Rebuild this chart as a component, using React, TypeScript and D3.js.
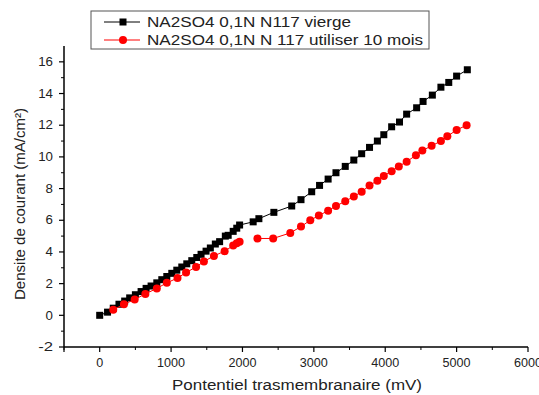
import React from "react";
import * as d3 from "d3";

const blackX = [0, 110, 190, 270, 350, 420, 500, 580, 650, 720, 800, 870, 940, 1010, 1080, 1150, 1220, 1290, 1360, 1420, 1490, 1550, 1620, 1680, 1760, 1800, 1870, 1920, 1960, 2150, 2230, 2440, 2690, 2820, 2970, 3080, 3200, 3310, 3440, 3560, 3670, 3780, 3890, 3980, 4090, 4200, 4300, 4440, 4530, 4660, 4780, 4890, 5000, 5150];
const blackY = [0, 0.2, 0.45, 0.7, 0.9, 1.1, 1.3, 1.5, 1.7, 1.85, 2.05, 2.25, 2.45, 2.65, 2.85, 3.05, 3.25, 3.45, 3.65, 3.85, 4.05, 4.25, 4.5, 4.65, 5.0, 5.05, 5.3, 5.5, 5.7, 5.9, 6.1, 6.5, 6.9, 7.3, 7.8, 8.2, 8.6, 9.0, 9.4, 9.8, 10.2, 10.6, 11.0, 11.4, 11.9, 12.2, 12.7, 13.1, 13.5, 13.9, 14.4, 14.7, 15.1, 15.5];

// null marks the break in the red curve
const redX = [190, 340, 490, 640, 800, 940, 1090, 1210, 1350, 1460, 1600, 1750, 1870, 1920, 1960, null, 2210, 2430, 2670, 2820, 2950, 3070, 3200, 3310, 3440, 3560, 3670, 3780, 3890, 3980, 4090, 4190, 4300, 4430, 4520, 4650, 4780, 4870, 5000, 5140];
const redY = [0.35, 0.7, 1.0, 1.35, 1.7, 2.05, 2.35, 2.7, 3.05, 3.4, 3.75, 4.05, 4.4, 4.55, 4.65, null, 4.85, 4.85, 5.2, 5.6, 6.0, 6.3, 6.6, 6.9, 7.2, 7.5, 7.8, 8.2, 8.5, 8.8, 9.1, 9.4, 9.7, 10.1, 10.4, 10.7, 11.0, 11.3, 11.7, 12.0];

const xTicks = [0, 1000, 2000, 3000, 4000, 5000, 6000];
const yTicks = [-2, 0, 2, 4, 6, 8, 10, 12, 14, 16];
const seriesNames = ["NA2SO4 0,1N N117 vierge", "NA2SO4 0,1N N 117 utiliser 10 mois"];
const xTitle = "Pontentiel trasmembranaire (mV)";
const yTitle = "Densite de courant (mA/cm²)";

export default function App() {
  const W = 539, H = 395;
  const x = d3.scaleLinear().domain([-500, 6000]).range([64, 528]);
  const y = d3.scaleLinear().domain([-2, 17]).range([347, 46]);
  const font = "'Liberation Sans', Arial, sans-serif";

  const black = blackX.map((v, i) => ({ x: v, y: blackY[i] }));
  const red = redX.map((v, i) => ({ x: v, y: redY[i] }));
  const line = d3
    .line<{ x: number | null; y: number | null }>()
    .defined((d) => d.x !== null && d.y !== null)
    .x((d) => x(d.x as number))
    .y((d) => y(d.y as number));

  const xMinor = d3.range(-500, 6001, 500).filter((v) => v % 1000 !== 0);
  const yMinor = d3.range(-1, 17, 2);

  return (
    <svg width={W} height={H} style={{ position: "absolute", left: 0, top: 0, background: "#fff" }}>
      <rect x={0} y={0} width={W} height={H} fill="#fff" />
      {/* axes */}
      <line x1={x(-500)} x2={x(-500)} y1={y(-2)} y2={y(17)} stroke="#000" strokeWidth={1.5} />
      <line x1={x(-500)} x2={x(6000)} y1={y(-2)} y2={y(-2)} stroke="#000" strokeWidth={1.5} />
      {yTicks.map((t) => (
        <g key={"yt" + t}>
          <line x1={x(-500) - 5} x2={x(-500)} y1={y(t)} y2={y(t)} stroke="#000" strokeWidth={1.2} />
          <text x={x(-500) - 11} y={y(t)} dy="0.35em" textAnchor="end" fontSize={12} fontFamily={font} fill="#222" textLength={String(t).length * 7.4} lengthAdjust="spacingAndGlyphs">
            {t}
          </text>
        </g>
      ))}
      {yMinor.map((t) => (
        <line key={"ym" + t} x1={x(-500) - 3} x2={x(-500)} y1={y(t)} y2={y(t)} stroke="#000" strokeWidth={1} />
      ))}
      {[-500, ...xTicks].map((t) => (
        <line key={"xt" + t} x1={x(t)} x2={x(t)} y1={y(-2)} y2={y(-2) + 5} stroke="#000" strokeWidth={1.2} />
      ))}
      {xMinor.map((t) => (
        <line key={"xm" + t} x1={x(t)} x2={x(t)} y1={y(-2)} y2={y(-2) + 3} stroke="#000" strokeWidth={1} />
      ))}
      {xTicks.map((t) => (
        <text key={"xl" + t} x={x(t)} y={y(-2) + 20} textAnchor="middle" fontSize={12} fontFamily={font} fill="#222" textLength={String(t).length * 7} lengthAdjust="spacingAndGlyphs">
          {t}
        </text>
      ))}
      <text x={297} y={390} textAnchor="middle" fontSize={14} fontFamily={font} fill="#222" textLength={250} lengthAdjust="spacingAndGlyphs">
        {xTitle}
      </text>
      <text
        transform={`translate(25,${204}) rotate(-90)`}
        textAnchor="middle"
        fontSize={14}
        fontFamily={font}
        fill="#222"
        textLength={192}
        lengthAdjust="spacingAndGlyphs"
      >
        {yTitle}
      </text>

      {/* series */}
      <path d={line(black) || ""} fill="none" stroke="#000" strokeWidth={1} />
      {black.map((d, i) => (
        <rect key={"b" + i} x={x(d.x) - 3.5} y={y(d.y) - 3.5} width={7} height={7} fill="#000" />
      ))}
      <path d={line(red) || ""} fill="none" stroke="#ff0000" strokeWidth={1} />
      {red
        .filter((d) => d.x !== null && d.y !== null)
        .map((d, i) => (
          <circle key={"r" + i} cx={x(d.x as number)} cy={y(d.y as number)} r={4} fill="#ff0000" />
        ))}

      {/* legend */}
      <rect x={91} y={11} width={338} height={38} fill="#fff" stroke="#555" strokeWidth={1} />
      <line x1={104} x2={140} y1={22} y2={22} stroke="#000" strokeWidth={1} />
      <rect x={119.5} y={18.5} width={7} height={7} fill="#000" />
      <text x={147} y={22} dy="0.35em" fontSize={14.5} fontFamily={font} fill="#222" textLength={204} lengthAdjust="spacingAndGlyphs">
        {seriesNames[0]}
      </text>
      <line x1={104} x2={140} y1={40} y2={40} stroke="#ff0000" strokeWidth={1} />
      <circle cx={123} cy={40} r={4} fill="#ff0000" />
      <text x={147} y={40} dy="0.35em" fontSize={14.5} fontFamily={font} fill="#222" textLength={276} lengthAdjust="spacingAndGlyphs">
        {seriesNames[1]}
      </text>
    </svg>
  );
}
